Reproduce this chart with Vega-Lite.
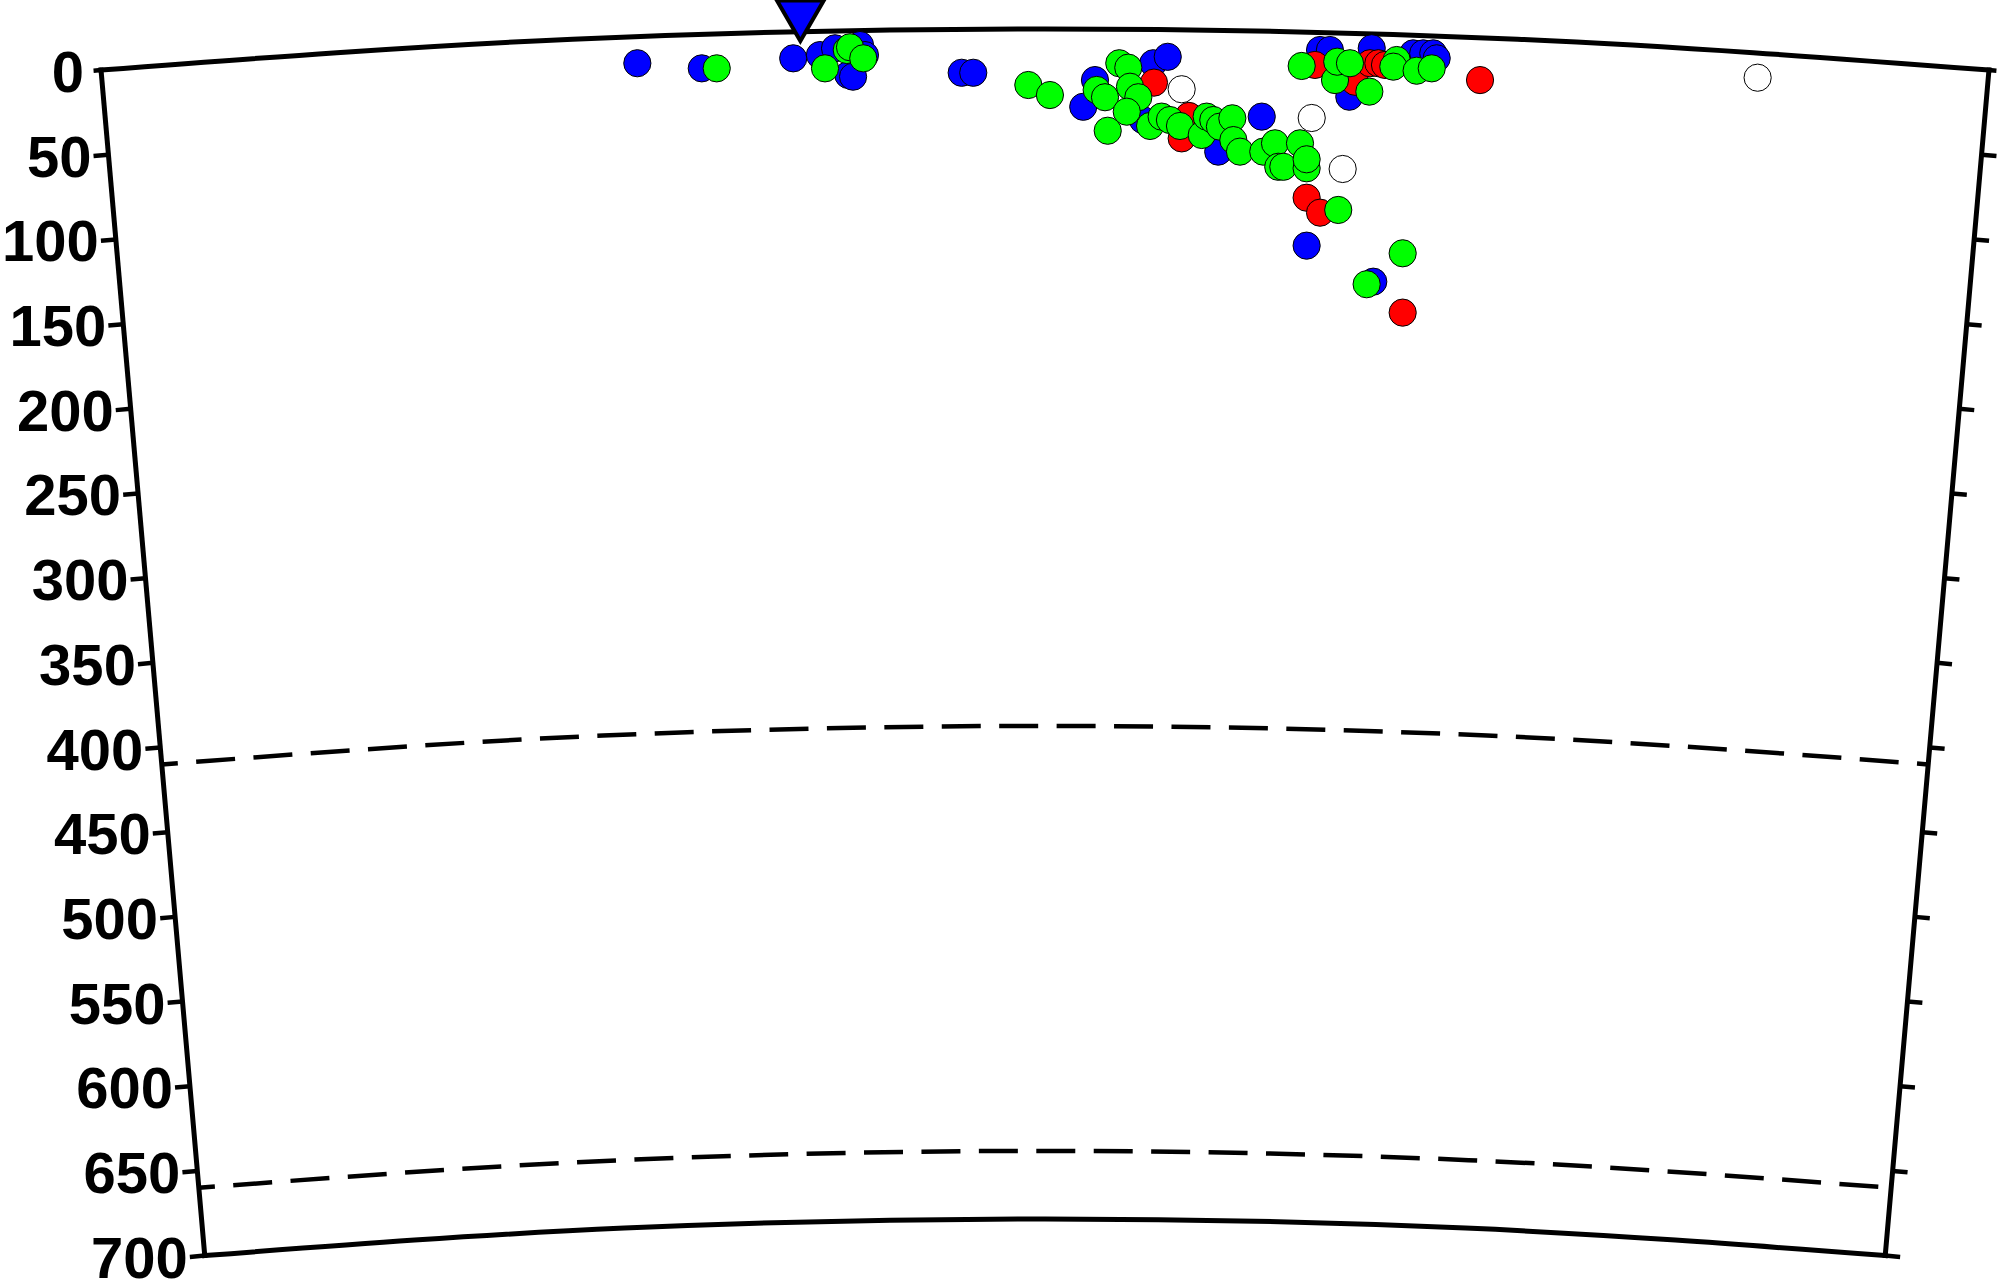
{
  "$schema": "https://vega.github.io/schema/vega-lite/v6.json",
  "width": 2000,
  "height": 1282,
  "autosize": {"type": "none"},
  "padding": 0,
  "background": "white",
  "config": {"view": {"stroke": null}},
  "datasets": {
    "frame": [
      {"seg": "top", "x": -555.27, "y": 24.24}, {"seg": "top", "x": -277.9, "y": 6.06}, {"seg": "top", "x": 0, "y": 0}, {"seg": "top", "x": 277.9, "y": 6.06}, {"seg": "top", "x": 555.27, "y": 24.24},
      {"seg": "bottom", "x": -494.26, "y": 721.58}, {"seg": "bottom", "x": -247.4, "y": 705.4}, {"seg": "bottom", "x": 0, "y": 700}, {"seg": "bottom", "x": 247.4, "y": 705.4}, {"seg": "bottom", "x": 494.26, "y": 721.58},
      {"seg": "left", "x": -555.27, "y": 24.24}, {"seg": "left", "x": -494.26, "y": 721.58},
      {"seg": "right", "x": 555.27, "y": 24.24}, {"seg": "right", "x": 494.26, "y": 721.58}
    ],
    "discont": [
      {"seg": "d410", "x": -519.5, "y": 432.68}, {"seg": "d410", "x": -260.0, "y": 415.67}, {"seg": "d410", "x": 0, "y": 410}, {"seg": "d410", "x": 260.0, "y": 415.67}, {"seg": "d410", "x": 519.5, "y": 432.68},
      {"seg": "d660", "x": -497.7, "y": 681.73}, {"seg": "d660", "x": -249.1, "y": 665.44}, {"seg": "d660", "x": 0, "y": 660}, {"seg": "d660", "x": 249.1, "y": 665.44}, {"seg": "d660", "x": 497.7, "y": 681.73}
    ],
    "ticks": [
      {"depth": 0, "x": -555.27, "y": 24.24, "x2": -559.67, "y2": 24.63},
      {"depth": 50, "x": -550.91, "y": 74.05, "x2": -559.68, "y2": 74.82},
      {"depth": 100, "x": -546.55, "y": 123.86, "x2": -555.32, "y2": 124.63},
      {"depth": 150, "x": -542.2, "y": 173.67, "x2": -550.97, "y2": 174.44},
      {"depth": 200, "x": -537.84, "y": 223.48, "x2": -546.61, "y2": 224.25},
      {"depth": 250, "x": -533.48, "y": 273.29, "x2": -542.25, "y2": 274.06},
      {"depth": 300, "x": -529.12, "y": 323.1, "x2": -537.89, "y2": 323.87},
      {"depth": 350, "x": -524.76, "y": 372.91, "x2": -533.53, "y2": 373.68},
      {"depth": 400, "x": -520.41, "y": 422.72, "x2": -529.18, "y2": 423.49},
      {"depth": 450, "x": -516.05, "y": 472.53, "x2": -524.82, "y2": 473.3},
      {"depth": 500, "x": -511.69, "y": 522.34, "x2": -520.46, "y2": 523.11},
      {"depth": 550, "x": -507.33, "y": 572.15, "x2": -516.1, "y2": 572.92},
      {"depth": 600, "x": -502.97, "y": 621.96, "x2": -511.74, "y2": 622.73},
      {"depth": 650, "x": -498.62, "y": 671.77, "x2": -507.39, "y2": 672.54},
      {"depth": 700, "x": -494.26, "y": 721.58, "x2": -503.03, "y2": 722.35},
      {"depth": 0, "x": 555.27, "y": 24.24, "x2": 559.67, "y2": 24.63},
      {"depth": 50, "x": 550.91, "y": 74.05, "x2": 559.68, "y2": 74.82},
      {"depth": 100, "x": 546.55, "y": 123.86, "x2": 555.32, "y2": 124.63},
      {"depth": 150, "x": 542.2, "y": 173.67, "x2": 550.97, "y2": 174.44},
      {"depth": 200, "x": 537.84, "y": 223.48, "x2": 546.61, "y2": 224.25},
      {"depth": 250, "x": 533.48, "y": 273.29, "x2": 542.25, "y2": 274.06},
      {"depth": 300, "x": 529.12, "y": 323.1, "x2": 537.89, "y2": 323.87},
      {"depth": 350, "x": 524.76, "y": 372.91, "x2": 533.53, "y2": 373.68},
      {"depth": 400, "x": 520.41, "y": 422.72, "x2": 529.18, "y2": 423.49},
      {"depth": 450, "x": 516.05, "y": 472.53, "x2": 524.82, "y2": 473.3},
      {"depth": 500, "x": 511.69, "y": 522.34, "x2": 520.46, "y2": 523.11},
      {"depth": 550, "x": 507.33, "y": 572.15, "x2": 516.1, "y2": 572.92},
      {"depth": 600, "x": 502.97, "y": 621.96, "x2": 511.74, "y2": 622.73},
      {"depth": 650, "x": 498.62, "y": 671.77, "x2": 507.39, "y2": 672.54},
      {"depth": 700, "x": 494.26, "y": 721.58, "x2": 503.03, "y2": 722.35}
    ],
    "labels": [
      {"label": "0", "x": -555.27, "y": 24.24},
      {"label": "50", "x": -550.91, "y": 74.05},
      {"label": "100", "x": -546.55, "y": 123.86},
      {"label": "150", "x": -542.2, "y": 173.67},
      {"label": "200", "x": -537.84, "y": 223.48},
      {"label": "250", "x": -533.48, "y": 273.29},
      {"label": "300", "x": -529.12, "y": 323.1},
      {"label": "350", "x": -524.76, "y": 372.91},
      {"label": "400", "x": -520.41, "y": 422.72},
      {"label": "450", "x": -516.05, "y": 472.53},
      {"label": "500", "x": -511.69, "y": 522.34},
      {"label": "550", "x": -507.33, "y": 572.15},
      {"label": "600", "x": -502.97, "y": 621.96},
      {"label": "650", "x": -498.62, "y": 671.77},
      {"label": "700", "x": -494.26, "y": 721.58}
    ],
    "quakes": [
      {"type": "blue", "x": -239.8, "y": 20.2}, {"type": "blue", "x": -201.9, "y": 23.2}, {"type": "blue", "x": -148.1, "y": 17.3}, {"type": "blue", "x": -132.4, "y": 15.4},
      {"type": "blue", "x": -123.5, "y": 11.4}, {"type": "blue", "x": -108.8, "y": 9.5}, {"type": "blue", "x": -105.9, "y": 15.4}, {"type": "blue", "x": -115.7, "y": 27.1},
      {"type": "blue", "x": -112.9, "y": 28.1}, {"type": "blue", "x": -49.0, "y": 25.8}, {"type": "blue", "x": -42.2, "y": 25.8}, {"type": "blue", "x": 29.4, "y": 30.1},
      {"type": "blue", "x": 22.5, "y": 45.8}, {"type": "blue", "x": 63.7, "y": 20.2}, {"type": "blue", "x": 72.2, "y": 16.4}, {"type": "blue", "x": 57.6, "y": 53.6},
      {"type": "blue", "x": 127.5, "y": 51.6}, {"type": "blue", "x": 101.9, "y": 72.2}, {"type": "blue", "x": 153.9, "y": 127.5}, {"type": "blue", "x": 193.1, "y": 148.7},
      {"type": "blue", "x": 161.8, "y": 12.4}, {"type": "blue", "x": 167.6, "y": 12.4}, {"type": "blue", "x": 192.2, "y": 11.4}, {"type": "blue", "x": 179.0, "y": 39.9},
      {"type": "blue", "x": 216.6, "y": 14.4}, {"type": "blue", "x": 222.5, "y": 14.4}, {"type": "blue", "x": 228.4, "y": 14.4}, {"type": "blue", "x": 230.4, "y": 17.3},
      {"type": "red", "x": 64.1, "y": 31.6}, {"type": "red", "x": 84.7, "y": 51.2}, {"type": "red", "x": 80.4, "y": 64.4}, {"type": "red", "x": 153.9, "y": 99.3},
      {"type": "red", "x": 161.8, "y": 108.1}, {"type": "red", "x": 210.4, "y": 166.9}, {"type": "red", "x": 158.8, "y": 21.2}, {"type": "red", "x": 182.4, "y": 31.1},
      {"type": "red", "x": 191.2, "y": 20.2}, {"type": "red", "x": 196.1, "y": 20.2}, {"type": "red", "x": 200.0, "y": 21.2}, {"type": "red", "x": 255.9, "y": 30.1},
      {"type": "white", "x": 80.4, "y": 35.5}, {"type": "white", "x": 156.9, "y": 52.4}, {"type": "white", "x": 175.1, "y": 82.4}, {"type": "white", "x": 419.2, "y": 28.7},
      {"type": "green", "x": -193.1, "y": 23.2}, {"type": "green", "x": -129.4, "y": 23.2}, {"type": "green", "x": -116.6, "y": 12.4}, {"type": "green", "x": -114.7, "y": 10.8},
      {"type": "green", "x": -106.9, "y": 17.3}, {"type": "green", "x": -9.8, "y": 33.0}, {"type": "green", "x": 2.9, "y": 38.9}, {"type": "green", "x": 43.7, "y": 20.2},
      {"type": "green", "x": 49.0, "y": 22.8}, {"type": "green", "x": 30.4, "y": 35.9}, {"type": "green", "x": 35.3, "y": 40.2}, {"type": "green", "x": 50.0, "y": 34.0},
      {"type": "green", "x": 54.9, "y": 40.2}, {"type": "green", "x": 48.1, "y": 48.7}, {"type": "green", "x": 36.9, "y": 59.9}, {"type": "green", "x": 61.8, "y": 57.1},
      {"type": "green", "x": 68.6, "y": 51.6}, {"type": "green", "x": 73.5, "y": 53.6}, {"type": "green", "x": 79.4, "y": 57.1}, {"type": "green", "x": 92.2, "y": 62.4},
      {"type": "green", "x": 95.1, "y": 51.6}, {"type": "green", "x": 99.0, "y": 53.6}, {"type": "green", "x": 102.9, "y": 57.5}, {"type": "green", "x": 110.2, "y": 52.6},
      {"type": "green", "x": 110.8, "y": 65.4}, {"type": "green", "x": 114.7, "y": 72.2}, {"type": "green", "x": 128.4, "y": 72.2}, {"type": "green", "x": 135.3, "y": 67.3},
      {"type": "green", "x": 150.0, "y": 67.3}, {"type": "green", "x": 137.2, "y": 81.1}, {"type": "green", "x": 140.2, "y": 81.1}, {"type": "green", "x": 153.9, "y": 82.0},
      {"type": "green", "x": 153.9, "y": 76.7}, {"type": "green", "x": 172.5, "y": 106.5}, {"type": "green", "x": 210.4, "y": 132.0}, {"type": "green", "x": 189.2, "y": 150.2},
      {"type": "green", "x": 151.0, "y": 21.8}, {"type": "green", "x": 170.6, "y": 30.1}, {"type": "green", "x": 171.9, "y": 19.3}, {"type": "green", "x": 179.4, "y": 20.2},
      {"type": "green", "x": 190.8, "y": 36.9}, {"type": "green", "x": 206.9, "y": 18.3}, {"type": "green", "x": 204.9, "y": 22.2}, {"type": "green", "x": 218.6, "y": 24.6},
      {"type": "green", "x": 227.5, "y": 23.2}
    ],
    "station": [
      {"name": "station", "x": -143.9, "y": -4.8}
    ]
  },
  "layer": [
    {
      "data": {"name": "discont"},
      "mark": {"type": "line", "interpolate": "monotone", "color": "black", "strokeWidth": 4.5, "strokeDash": [39, 18.43], "strokeDashOffset": 23},
      "encoding": {
        "x": {"field": "x", "type": "quantitative", "scale": {"domain": [-614.7, 561.77], "nice": false, "zero": false}, "axis": null},
        "y": {"field": "y", "type": "quantitative", "scale": {"domain": [-17.0, 737.12], "nice": false, "zero": false, "reverse": true}, "axis": null},
        "detail": {"field": "seg", "type": "nominal"}
      }
    },
    {
      "data": {"name": "frame"},
      "mark": {"type": "line", "interpolate": "monotone", "color": "black", "strokeWidth": 5, "strokeCap": "square"},
      "encoding": {
        "x": {"field": "x", "type": "quantitative", "axis": null},
        "y": {"field": "y", "type": "quantitative", "axis": null},
        "detail": {"field": "seg", "type": "nominal"}
      }
    },
    {
      "data": {"name": "ticks"},
      "mark": {"type": "rule", "color": "black", "strokeWidth": 4.5},
      "encoding": {
        "x": {"field": "x", "type": "quantitative", "axis": null},
        "y": {"field": "y", "type": "quantitative", "axis": null},
        "x2": {"field": "x2"},
        "y2": {"field": "y2"}
      }
    },
    {
      "data": {"name": "labels"},
      "mark": {"type": "text", "align": "right", "baseline": "alphabetic", "dx": -17, "dy": 22, "font": "Liberation Sans", "fontWeight": "bold", "fontSize": 58, "color": "black"},
      "encoding": {
        "x": {"field": "x", "type": "quantitative", "axis": null},
        "y": {"field": "y", "type": "quantitative", "axis": null},
        "text": {"field": "label", "type": "nominal"}
      }
    },
    {
      "data": {"name": "quakes"},
      "mark": {"type": "point", "shape": "circle", "filled": true, "size": 740, "stroke": "black", "strokeWidth": 1, "opacity": 1},
      "encoding": {
        "x": {"field": "x", "type": "quantitative", "axis": null},
        "y": {"field": "y", "type": "quantitative", "axis": null},
        "fill": {"field": "type", "type": "nominal", "scale": {"domain": ["blue", "red", "white", "green"], "range": ["#0000ff", "#ff0000", "#ffffff", "#00ff00"]}, "legend": null}
      }
    },
    {
      "data": {"name": "station"},
      "mark": {"type": "point", "shape": "triangle-down", "filled": true, "size": 2200, "fill": "#0000ff", "stroke": "black", "strokeWidth": 4, "opacity": 1},
      "encoding": {
        "x": {"field": "x", "type": "quantitative", "axis": null},
        "y": {"field": "y", "type": "quantitative", "axis": null}
      }
    }
  ]
}
